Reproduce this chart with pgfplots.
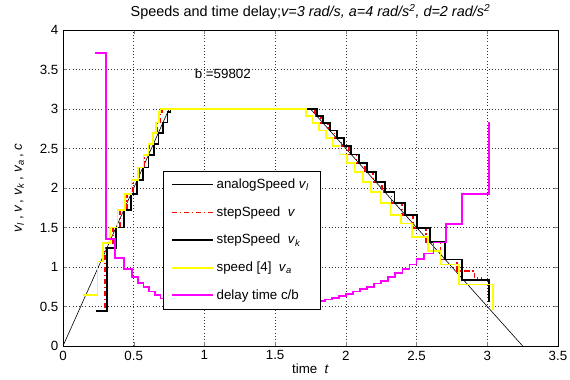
\documentclass[border=0pt]{standalone}
\usepackage{pgfplots}
\pgfplotsset{compat=1.18}
\usepackage{fontspec}
\setmainfont{Liberation Sans}
\definecolor{mred}{rgb}{1,0,0}
\definecolor{myel}{rgb}{1,1,0}
\definecolor{mmag}{rgb}{1,0,1}
\begin{document}
\begin{tikzpicture}
\begin{axis}[
  scale only axis,
  width=371.25pt, height=237pt,
  xmin=0, xmax=3.5, ymin=0, ymax=4,
  xtick={0,0.5,...,3.5}, ytick={0,0.5,...,4},
  /pgf/number format/assume math mode=true,
  tick label style={font=\fontsize{10}{11}\selectfont},
  tick align=inside, tick pos=both,
  major tick length=3pt,
  grid=major,
  grid style={dotted, black!80, line width=0.5pt},
  axis line style={black, line width=0.6pt},
  title={Speeds and time delay;\textit{v=3 rad/s, a=4 rad/s\textsuperscript{2}, d=2 rad/s\textsuperscript{2}}},
  title style={font=\fontsize{10.8}{12}\selectfont, yshift=-2pt},
  xlabel={time\ \ \textit{t}},
  xlabel style={font=\fontsize{10}{11}\selectfont, yshift=4pt},
  ylabel={\textit{v}\textsubscript{\textit{l}}\,, \textit{v}\,, \textit{v}\textsubscript{\textit{k}}\,, \textit{v}\textsubscript{\textit{a}}\,, \textit{c}},
  ylabel style={font=\fontsize{10}{11}\selectfont, yshift=5pt},
  legend style={at={(axis cs:0.707,2.22)}, anchor=north west,
    font=\fontsize{10}{12}\selectfont, cells={anchor=west}, row sep=8pt,
    inner xsep=6pt, inner ysep=4pt},
  legend image code/.code={\draw[mark repeat=2,mark phase=2,#1] plot coordinates {(0cm,0cm) (0.5cm,0cm) (1cm,0cm)};
    \path (0cm,0cm) -- (1.08cm,0cm);},
  clip=true,
]
% analog speed
\addplot[black, line width=0.45pt] coordinates {(0,0) (0.75,3) (1.75,3) (3.25,0)};
\addlegendentry{analogSpeed \textit{v}\textsubscript{\textit{l}}}
% step speed v (red dash dot)
\addplot[mred, line width=1.3pt, const plot, dash pattern=on 4pt off 2pt on 1pt off 2pt] coordinates {
(0.236,0.44) (0.297,1.24) (0.355,1.50) (0.405,1.72) (0.452,1.92) (0.495,2.10)
(0.535,2.26) (0.572,2.42) (0.608,2.56) (0.640,2.70) (0.668,2.83) (0.688,2.96)
(0.700,3.00) (1.781,2.912) (1.826,2.822) (1.872,2.728) (1.920,2.63) (1.970,2.53)
(2.022,2.424) (2.076,2.316) (2.133,2.2) (2.193,2.078) (2.256,1.95) (2.323,1.812)
(2.397,1.662) (2.477,1.496) (2.566,1.312) (2.670,1.096) (2.785,0.95) (2.91,0.86) (2.96,0.86)};
\addlegendentry{stepSpeed\ \ \textit{v}}
% step speed v_k (black)
\addplot[black, line width=1.3pt, const plot] coordinates {
(0.233,0.44) (0.309,1.24) (0.375,1.50) (0.431,1.72) (0.480,1.92) (0.525,2.10)
(0.566,2.26) (0.605,2.42) (0.641,2.56) (0.675,2.70) (0.707,2.83) (0.739,2.96)
(0.760,3.00) (1.794,2.912) (1.839,2.822) (1.886,2.728) (1.935,2.63) (1.985,2.53)
(2.038,2.424) (2.092,2.316) (2.150,2.2) (2.211,2.078) (2.275,1.95) (2.344,1.812)
(2.419,1.662) (2.502,1.496) (2.594,1.312) (2.702,1.096) (2.820,0.84) (3.010,0.84) (3.010,0.56)};
\addlegendentry{stepSpeed\ \ \textit{v}\textsubscript{\textit{k}}}
% speed [4] v_a (yellow)
\addplot[myel, line width=1.3pt, const plot] coordinates {
(0.144,0.65) (0.243,1.07) (0.285,1.30) (0.330,1.50) (0.385,1.72) (0.440,1.92)
(0.485,2.10) (0.530,2.26) (0.570,2.42) (0.605,2.56) (0.635,2.70) (0.660,2.83)
(0.680,2.96) (0.690,3.00) (1.720,2.912) (1.765,2.822) (1.810,2.728) (1.857,2.63)
(1.905,2.53) (1.955,2.424) (2.008,2.316) (2.062,2.2) (2.120,2.078) (2.180,1.95)
(2.245,1.812) (2.315,1.662) (2.390,1.55) (2.470,1.38) (2.580,1.20) (2.670,1.03)
(2.800,0.78) (3.040,0.78) (3.040,0.46)};
\addlegendentry{speed [4]\ \ \textit{v}\textsubscript{\textit{a}}}
% delay time c/b (magenta)
\addplot[mmag, line width=1.3pt, const plot] coordinates {
(0.226,3.71) (0.305,1.35) (0.37,1.11) (0.43,0.97) (0.49,0.87) (0.53,0.80)
(0.57,0.75) (0.61,0.69) (0.65,0.65) (0.69,0.60) (0.73,0.57) (0.76,0.55)
(1.80,0.57) (1.85,0.59) (1.90,0.61) (1.95,0.635) (2.00,0.66) (2.05,0.69)
(2.10,0.72) (2.15,0.75) (2.20,0.79) (2.25,0.825) (2.30,0.87) (2.35,0.92)
(2.40,0.97) (2.45,1.03) (2.50,1.10) (2.55,1.17) (2.62,1.31) (2.71,1.54)
(2.82,1.92) (3.01,2.84)};
\addlegendentry{delay time c/b}
\node[anchor=west, font=\fontsize{10}{11}\selectfont, inner sep=0pt] at (axis cs:0.93,3.45) {b =59802};
\end{axis}
\pgfresetboundingbox
\path ([xshift=-47.25pt,yshift=-25.5pt]current axis.south west) rectangle ([xshift=9pt,yshift=22.5pt]current axis.north east);
\end{tikzpicture}
\end{document}
